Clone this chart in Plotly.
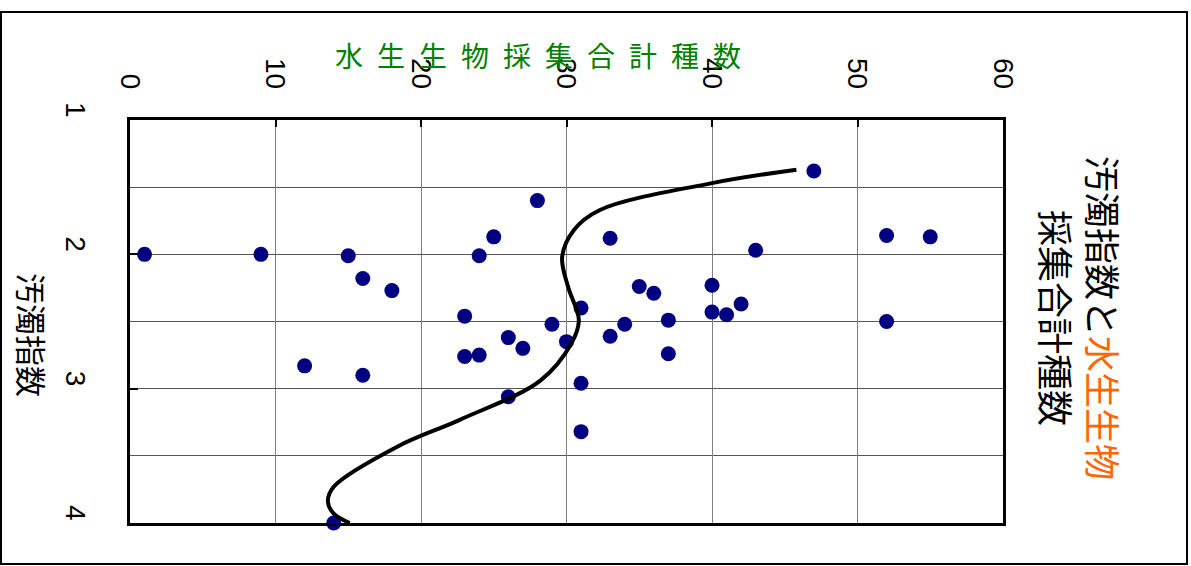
import plotly.graph_objects as go

# Survey points: total species count vs. pollution index
species_total = [1, 9, 15, 16, 18, 12, 16,
                 23, 23, 24, 26, 27, 29, 30, 31, 31, 31, 26,
                 33, 34, 37, 37, 35, 36, 40, 40, 41, 42,
                 28, 25, 24, 33, 43, 47, 52, 55, 52, 14]
pollution_index = [2.0, 2.0, 2.01, 2.18, 2.27, 2.83, 2.9,
                   2.46, 2.76, 2.75, 2.62, 2.70, 2.52, 2.65, 2.40, 2.96, 3.32, 3.06,
                   2.61, 2.52, 2.49, 2.74, 2.24, 2.29, 2.23, 2.43, 2.45, 2.37,
                   1.60, 1.87, 2.01, 1.88, 1.97, 1.38, 1.86, 1.87, 2.50, 4.0]

# Smoothed trend line
trend_species = [45.8, 40.0, 32.3, 30.5, 29.7, 30.1, 30.85, 30.35, 28.2,
                 22.7, 18.4, 14.0, 13.6, 14.0, 15.1]
trend_index = [1.37, 1.47, 1.67, 1.82, 2.02, 2.24, 2.49, 2.66, 2.94,
               3.23, 3.43, 3.73, 3.84, 3.93, 4.0]

x_ticks = [0, 10, 20, 30, 40, 50, 60]
y_ticks = [1, 2, 3, 4]
y_minor_grid = [1.5, 2.5, 3.5]

top_title_chars = list("水生生物採集合計種数")
left_title = "汚濁指数"
right_title_line1_a = "汚濁指数と"
right_title_line1_b = "水生生物"
right_title_line2 = "採集合計種数"

W, H = 1191, 566
ML, MR, MT, MB = 130, 188, 120, 43
JP = "Noto Sans CJK JP"
NUM = "Liberation Sans, Arial, sans-serif"

fig = go.Figure()
fig.add_trace(go.Scatter(
    x=species_total, y=pollution_index, mode="markers",
    marker=dict(color="#000080", size=15, line=dict(width=0)),
    showlegend=False, cliponaxis=False))
fig.add_trace(go.Scatter(
    x=trend_species, y=trend_index, mode="lines",
    line=dict(color="black", width=4, shape="spline", smoothing=1.0),
    showlegend=False))

pw = W - ML - MR
ph = H - MT - MB


def px_to_paper_x(px):
    return (px - ML) / pw


def px_to_paper_y(py):
    return (H - MB - py) / ph


# outer frame around the whole chart
fig.add_shape(type="rect", xref="paper", yref="paper",
              x0=px_to_paper_x(1), x1=px_to_paper_x(1187),
              y0=px_to_paper_y(564), y1=px_to_paper_y(12),
              line=dict(color="black", width=2), fillcolor="rgba(0,0,0,0)",
              layer="below")

fig.add_annotation(text="\u2002".join(top_title_chars), xref="paper", yref="paper",
                   x=px_to_paper_x(538), y=px_to_paper_y(55),
                   showarrow=False, xanchor="center", yanchor="middle",
                   font=dict(family=JP, size=28, color="#008000"))
fig.add_annotation(text=left_title, xref="paper", yref="paper",
                   x=px_to_paper_x(33), y=px_to_paper_y(335), textangle=90,
                   showarrow=False, xanchor="center", yanchor="middle",
                   font=dict(family=JP, size=31, color="black"))
fig.add_annotation(
    text=(right_title_line1_a + "<span style='color:#FF6600'>" + right_title_line1_b
          + "</span><br>" + right_title_line2),
    xref="paper", yref="paper",
    x=px_to_paper_x(1081), y=px_to_paper_y(318), textangle=90,
    showarrow=False, xanchor="center", yanchor="middle",
    font=dict(family=JP, size=36, color="black"))

fig.update_layout(
    width=W, height=H,
    margin=dict(l=ML, r=MR, t=MT, b=MB, pad=0),
    paper_bgcolor="white", plot_bgcolor="white",
    xaxis=dict(side="top", range=[0, 60], tickvals=x_ticks, tickangle=90,
               tickfont=dict(family=NUM, size=28, color="black"),
               ticks="inside", ticklen=7, tickwidth=2, tickcolor="black",
               ticklabelstandoff=18,
               showgrid=True, gridcolor="#7f7f7f", gridwidth=1,
               showline=True, linecolor="black", linewidth=3, mirror=True,
               zeroline=False),
    yaxis=dict(range=[4, 1], tickvals=y_ticks, tickangle=90,
               tickfont=dict(family=NUM, size=28, color="black"),
               ticks="inside", ticklen=8, tickwidth=2, tickcolor="black",
               ticklabelstandoff=27, ticklabelshift=6,
               showgrid=True, gridcolor="#555555", gridwidth=1,
               minor=dict(tickvals=y_minor_grid, showgrid=True,
                          gridcolor="#555555", gridwidth=1, ticks=""),
               showline=True, linecolor="black", linewidth=3, mirror=True,
               zeroline=False),
)

fig.write_html("out.html")
